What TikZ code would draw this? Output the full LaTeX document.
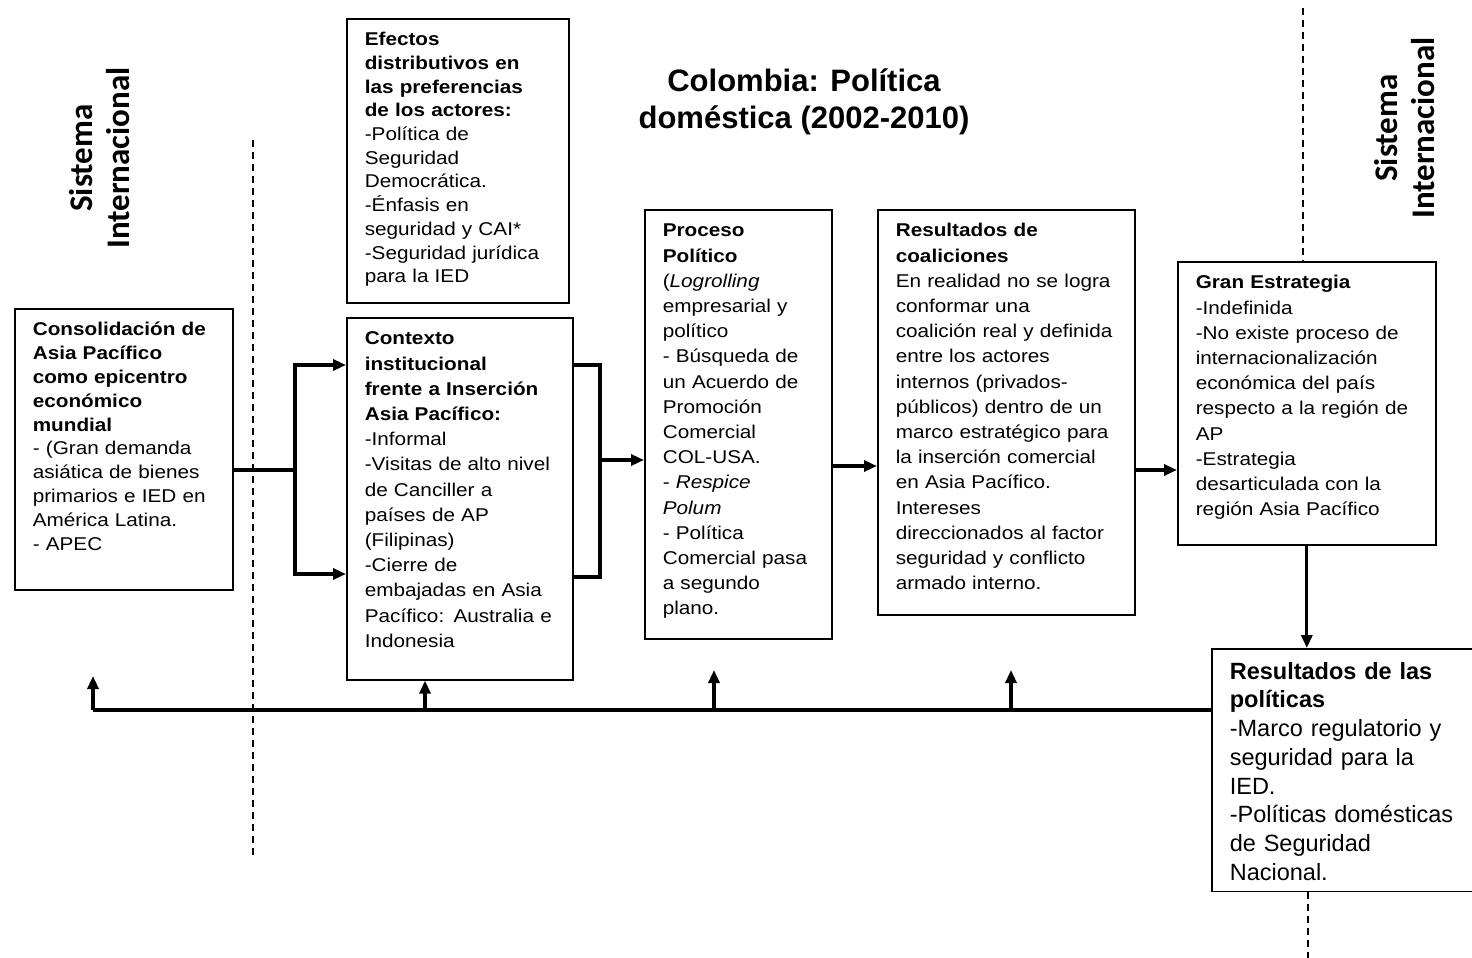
\documentclass[tikz,border=0pt]{standalone}
\usepackage{fontspec}
\setmainfont{Liberation Sans}
\newfontfamily\boxfont[FakeStretch=1.12]{Liberation Sans}
\newfontfamily\sisfont{Carlito}
\usetikzlibrary{arrows.meta,positioning,calc}

\tikzset{
  caja/.style={draw, line width=1.6pt, anchor=north west, align=left,
    inner xsep=18pt, inner ysep=13pt, text height=14pt,
    font=\boxfont\fontsize{18.5}{25.2}\selectfont},
  flecha/.style={line width=3.2pt, -{Triangle[length=13pt,width=11pt]}},
  linea/.style={line width=3.2pt},
  limite/.style={line width=1.4pt, dash pattern=on 7pt off 5pt},
  sistema/.style={rotate=90, align=center,
    font=\sisfont\bfseries\fontsize{33}{37}\selectfont}
}

\begin{document}
\begin{tikzpicture}[x=1pt,y=-1pt]
  \path[fill=white, use as bounding box] (0,0) rectangle (1472,958);

  % titulos
  \node[align=center, font=\bfseries\fontsize{31}{37}\selectfont] (titulo) at (804,102)
    {Colombia: Política\\doméstica (2002-2010)};
  \node[sistema] (sisL) at (100,158) {Sistema\\Internacional};
  \node[sistema] (sisR) at (1405,128) {Sistema\\Internacional};

  % cajas
  \node[caja, text width=182pt, text depth=241pt,
    font=\boxfont\fontsize{18.5}{23.8}\selectfont] (cons) at (14,308)
    {{\bfseries Consolidación de\\Asia Pacífico\\como epicentro\\económico\\mundial}\\
     - (Gran demanda\\asiática de bienes\\primarios e IED en\\América Latina.\\- APEC};
  \node[caja, text width=186pt, text depth=244pt,
    font=\boxfont\fontsize{18.5}{23.7}\selectfont] (efec) at (346,18)
    {{\bfseries Efectos\\distributivos en\\las preferencias\\de los actores:}\\
     -Política de\\Seguridad\\Democrática.\\-Énfasis en\\seguridad y CAI*\\-Seguridad jurídica\\para la IED};
  \node[caja, text width=190pt, text depth=322pt] (ctx) at (346,317)
    {{\bfseries Contexto\\institucional\\frente a Inserción\\Asia Pacífico:}\\
     -Informal\\-Visitas de alto nivel\\de Canciller a\\países de AP\\(Filipinas)\\-Cierre de\\
     embajadas en Asia\\Pacífico: Australia e\\Indonesia};
  \node[caja, text width=151pt, text depth=389pt] (proc) at (644,209)
    {{\bfseries Proceso\\Político}\\
     (\textit{Logrolling}\\empresarial y\\político\\- Búsqueda de\\un Acuerdo de\\Promoción\\
     Comercial\\COL-USA.\\- \textit{Respice}\\\textit{Polum}\\- Política\\Comercial pasa\\a segundo\\plano.};
  \node[caja, text width=221pt, text depth=365pt] (coal) at (877,209)
    {{\bfseries Resultados de\\coaliciones}\\
     En realidad no se logra\\conformar una\\coalición real y definida\\entre los actores\\
     internos (privados-\\públicos) dentro de un\\marco estratégico para\\la inserción comercial\\
     en Asia Pacífico.\\Intereses\\direccionados al factor\\seguridad y conflicto\\armado interno.};
  \node[caja, text width=222pt, text depth=243pt] (gran) at (1177,261)
    {{\bfseries Gran Estrategia}\\
     -Indefinida\\-No existe proceso de\\internacionalización\\económica del país\\
     respecto a la región de\\AP\\-Estrategia\\desarticulada con la\\región Asia Pacífico};
  \node[caja, text width=245pt, text height=17pt, text depth=199pt, inner ysep=13.4pt,
    font=\fontsize{23.5}{28.7}\selectfont] (pol) at (1211,648)
    {{\bfseries Resultados de las\\políticas}\\
     -Marco regulatorio y\\seguridad para la\\IED.\\-Políticas domésticas\\de Seguridad\\Nacional.};

  % limites del sistema internacional
  \draw[limite] (253,140) -- (253,855);
  \draw[limite] (1303,8) -- (gran.north -| 1303,0);
  \draw[limite] (pol.south -| 1308,0) -- (1308,958);

  % entradas al contexto institucional
  \coordinate (bifurca) at (295,470);
  \coordinate (entA) at (295,365);
  \coordinate (entB) at (295,574);
  \draw[linea] (cons.east |- bifurca) -- (bifurca);
  \draw[flecha] (bifurca) -- (entA) -- (entA -| ctx.west);
  \draw[flecha] (bifurca) -- (entB) -- (entB -| ctx.west);

  % salida hacia el proceso politico
  \coordinate (salA) at (600,365);
  \coordinate (salB) at (600,577);
  \coordinate (salM) at (600,460);
  \draw[linea] (salA -| ctx.east) -- (salA) -- (salB) -- (salB -| ctx.east);
  \draw[flecha] (salM) -- (salM -| proc.west);

  \draw[flecha] (proc.east |- 0,466) -- (coal.west |- 0,466);
  \draw[flecha] (coal.east |- 0,470) -- (gran.west |- 0,470);
  \draw[flecha] (gran.south) -- (gran.south |- pol.north);

  % retroalimentacion
  \coordinate (retorno) at (93,710);
  \draw[linea, line width=4pt] (pol.west |- retorno) -- (retorno);
  \draw[flecha] (retorno) -- ++(0,-34);
  \draw[flecha] (425,710) -- (ctx.south -| 425,0);
  \foreach \xa/\ya in {714/670, 1011/670} {
    \draw[flecha] (\xa,710) -- (\xa,\ya);
  }
\end{tikzpicture}
\end{document}
